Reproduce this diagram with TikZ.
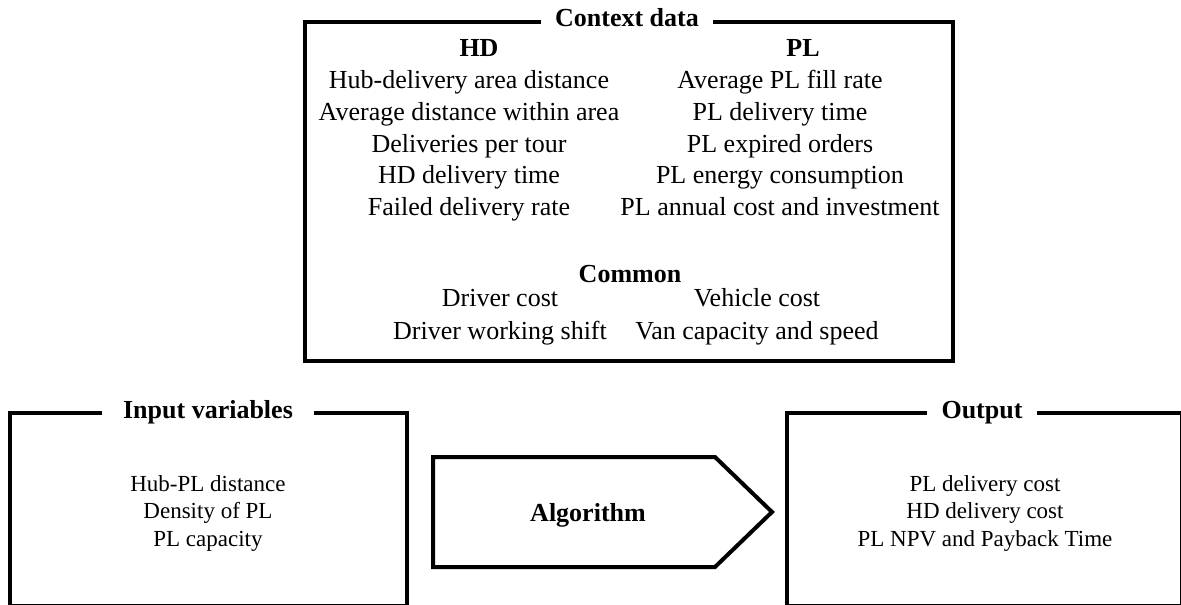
\documentclass[tikz,border=0pt]{standalone}
\usepackage{fontspec}
\setmainfont{Liberation Serif}
\begin{document}
\begin{tikzpicture}[x=1pt,y=-1pt,
  boxline/.style={line width=4pt,line join=miter},
  item/.style={anchor=base,inner sep=0pt,font=\fontsize{26}{32}\selectfont},
  head/.style={anchor=base,inner sep=0pt,font=\fontsize{26}{32}\selectfont\bfseries},
  small/.style={anchor=base,inner sep=0pt,font=\fontsize{23}{28}\selectfont},
  ttl/.style={anchor=base,fill=white,inner ysep=1pt,font=\fontsize{26}{32}\selectfont\bfseries}]
\useasboundingbox (0,0) rectangle (1181,605);
\fill[white] (0,0) rectangle (1181,605);
% Context box
\draw[boxline] (305,22) rectangle (953,361);
\node[ttl,inner xsep=14pt] (ctxt) at (627,26) {Context data};
\node[head] (hdh) at (479,56) {HD};
\node[head] (plh) at (803,56) {PL};
\node[item] (hd1) at (469,88) {Hub-delivery area distance};
\node[item] (hd2) at (469,120) {Average distance within area};
\node[item] (hd3) at (469,152) {Deliveries per tour};
\node[item] (hd4) at (469,183) {HD delivery time};
\node[item] (hd5) at (469,215) {Failed delivery rate};
\node[item] (pl1) at (780,88) {Average PL fill rate};
\node[item] (pl2) at (780,120) {PL delivery time};
\node[item] (pl3) at (780,152) {PL expired orders};
\node[item] (pl4) at (780,183) {PL energy consumption};
\node[item] (pl5) at (780,215) {PL annual cost and investment};
\node[head] (comh) at (630,282) {Common};
\node[item] (c1) at (500,306) {Driver cost};
\node[item] (c2) at (500,339) {Driver working shift};
\node[item] (c3) at (757,306) {Vehicle cost};
\node[item] (c4) at (757,339) {Van capacity and speed};
% Input box
\draw[boxline] (10,606) -- (10,413) -- (407,413) -- (407,606) -- cycle;
\node[ttl,inner xsep=21pt] (inpt) at (208,418) {Input variables};
\node[small] (in1) at (208,491) {Hub-PL distance};
\node[small] (in2) at (208,518.5) {Density of PL};
\node[small] (in3) at (208,546) {PL capacity};
% Algorithm arrow
\draw[boxline] (433,457) -- (715,457) -- (772,512) -- (715,567) -- (433,567) -- cycle;
\node[head] (algo) at (588,521) {Algorithm};
% Output box
\draw[boxline] (787,606) -- (787,413) -- (1182,413) -- (1182,606) -- cycle;
\node[ttl,inner xsep=15pt] (outt) at (982,418) {Output};
\node[small] (o1) at (985,491) {PL delivery cost};
\node[small] (o2) at (985,518.5) {HD delivery cost};
\node[small] (o3) at (985,546) {PL NPV and Payback Time};
\end{tikzpicture}
\end{document}
